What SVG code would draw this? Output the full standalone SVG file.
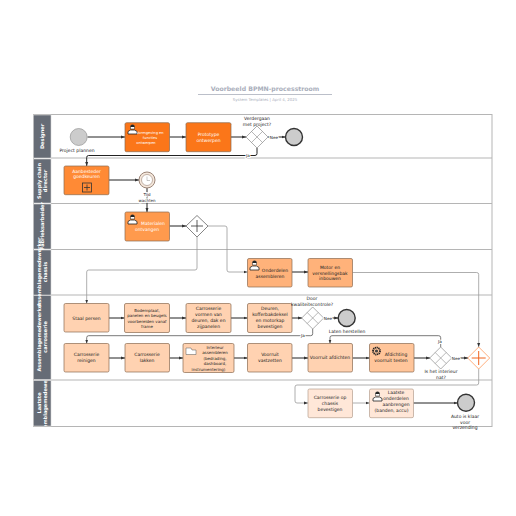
<svg xmlns="http://www.w3.org/2000/svg" width="516" height="516" viewBox="0 0 516 516">
<style>
text{font-family:"DejaVu Sans","Liberation Sans",sans-serif;font-size:4.5px;fill:#222;text-anchor:middle}
.w{fill:#fff}
.t{stroke:#8a6a50;stroke-width:.7}
.lane{fill:#fff;stroke:#b5b5b5;stroke-width:1}
.hd{fill:#666c76;stroke:#d8d8d8;stroke-width:.6}
.hl{fill:#fff;font-weight:bold;font-size:5px}
.c{fill:none;stroke:#222;stroke-width:1}
.g{fill:none;stroke:#999;stroke-width:.8}
.gw{fill:#fff;stroke:#999;stroke-width:.8}
.x{stroke:#888;stroke-width:.6;fill:none}
.end{fill:#ccc;stroke:#333;stroke-width:1.4}
.lbl{font-size:4.2px;paint-order:stroke;stroke:#fff;stroke-width:2px}
</style>
<defs>
<marker id="a" markerWidth="5" markerHeight="5" refX="4" refY="2" orient="auto" markerUnits="userSpaceOnUse"><path d="M0 .5L4 2L0 3.500Z" fill="#333"/></marker>
<clipPath id="lastHd"><rect x="33" y="380.500" width="18" height="45.500"/></clipPath>
<symbol id="person" viewBox="0 0 11 11" overflow="visible"><path d="M1 10V7.500L3.500 6H7.500L10 7.500V10Z" fill="#fff" stroke="#222" stroke-width=".8"/><path d="M3.500 2.800A2 2 0 0 1 7.500 2.800V5H3.500Z" fill="#fff" stroke="#222" stroke-width=".5"/><path d="M3.300 3A2.200 2.200 0 0 1 7.700 3Z" fill="#222"/></symbol>
</defs>

<rect width="516" height="516" fill="#fff"/>
<g id="title">
<text x="265" y="91" style="font-size:6.2px;font-weight:bold;fill:#a9aebb">Voorbeeld BPMN-processtroom</text>
<line x1="198" y1="94.500" x2="332" y2="94.500" stroke="#a9aebb" stroke-width=".8"/>
<text x="265" y="100.500" style="font-size:3.9px;fill:#a9aebb">System Templates  |  April 4, 2025</text>
</g>

<g id="lanes">
<rect class="lane" x="33.500" y="114.500" width="458.500" height="312"/>
<path d="M51 158H492M51 203.500H492M51 249.500H492M51 295H492M51 380H492" stroke="#b5b5b5" fill="none"/>
<rect class="hd" x="33.500" y="115" width="17.500" height="43"/>
<rect class="hd" x="33.500" y="159" width="17.500" height="44"/>
<rect class="hd" x="33.500" y="204" width="17.500" height="45"/>
<rect class="hd" x="33.500" y="250" width="17.500" height="45"/>
<rect class="hd" x="33.500" y="295.500" width="17.500" height="84"/>
<rect class="hd" x="33.500" y="380.500" width="17.500" height="45.500"/>
<text class="hl" transform="translate(44,136.500) rotate(-90)">Designer</text>
<text class="hl" transform="translate(41,181) rotate(-90)">Supply chain</text>
<text class="hl" transform="translate(47,181) rotate(-90)">director</text>
<text class="hl" transform="translate(44,226) rotate(-90)">Fabrieksarbeider</text>
<text class="hl" transform="translate(41,272) rotate(-90)">Assemblagemedewerker</text>
<text class="hl" transform="translate(47,272) rotate(-90)">chassis</text>
<text class="hl" transform="translate(41,337) rotate(-90)">Assemblagemedewerker</text>
<text class="hl" transform="translate(47,337) rotate(-90)">carrosserie</text>
<g clip-path="url(#lastHd)">
<text class="hl" transform="translate(41,403) rotate(-90)">Laatste</text>
<text class="hl" transform="translate(47,403) rotate(-90)">assemblagemedewerker</text>
</g>
</g>

<g id="connectors">
<path class="c" marker-end="url(#a)" d="M87.500 137H125"/>
<path class="c" marker-end="url(#a)" d="M169.500 137H186"/>
<path class="c" marker-end="url(#a)" d="M231 137H246"/>
<path class="c" marker-end="url(#a)" d="M268 137H285.500"/>
<path class="c" marker-end="url(#a)" d="M257 148V153.500Q257 155.500 255 155.500H88.500Q86.700 155.500 86.700 157.500V166"/>
<path class="c" marker-end="url(#a)" d="M109 180H139"/>
<path class="c" marker-end="url(#a)" d="M147 188V212"/>
<path class="c" marker-end="url(#a)" d="M169.500 226H186"/>
<path class="g" marker-end="url(#a)" d="M208 226H225Q227 226 227 228V270Q227 272 229 272H247.500"/>
<path class="g" marker-end="url(#a)" d="M197 237V268Q197 270 195 270H88.700Q86.700 270 86.700 272V303.500"/>
<path class="c" marker-end="url(#a)" d="M292 272H308"/>
<path class="g" d="M352.500 272.500H476.700Q478.700 272.500 478.700 274.500V347" marker-end="url(#a)"/>
<path class="c" marker-end="url(#a)" d="M109 318H124.500"/>
<path class="c" marker-end="url(#a)" d="M169.500 318H186"/>
<path class="c" marker-end="url(#a)" d="M231 318H247.500"/>
<path class="c" marker-end="url(#a)" d="M292 318H302"/>
<path class="c" marker-end="url(#a)" d="M323.700 318H338.200"/>
<path class="g" style="stroke:#555" marker-end="url(#a)" d="M312.700 329V333.700Q312.700 335.700 310.700 335.700H88.700Q86.700 335.700 86.700 337.700V343.500"/>
<path class="c" marker-end="url(#a)" d="M109 358H125"/>
<path class="c" marker-end="url(#a)" d="M169.500 358H183"/>
<path class="c" marker-end="url(#a)" d="M234 358H247.500"/>
<path class="c" marker-end="url(#a)" d="M292 358H308"/>
<path class="c" marker-end="url(#a)" d="M352.500 358H369.500"/>
<path class="c" marker-end="url(#a)" d="M413.500 358H430"/>
<path class="c" marker-end="url(#a)" d="M451.700 358H468"/>
<path class="g" style="stroke:#555" marker-end="url(#a)" d="M440.700 347V337.700Q440.700 335.700 438.700 335.700H332Q330 335.700 330 337.700V343.500"/>
<path class="g" marker-end="url(#a)" d="M478.700 369V383Q478.700 385 476.700 385H297Q295 385 295 387V401Q295 403 297 403H308"/>
<path class="g" marker-end="url(#a)" d="M352.500 403H369.500"/>
<path class="c" marker-end="url(#a)" d="M413.500 403H457.500"/>
</g>

<g id="n-start"><circle cx="78.700" cy="137" r="8.500" fill="#ccc" stroke="#888" stroke-width=".6"/><text x="77" y="152">Project plannen</text></g>
<g id="n-t1"><rect class="t" x="125" y="122.700" width="44.500" height="29" rx="1.500" fill="#fb7619"/><use href="#person" x="127" y="124" width="11" height="11"/><text class="w" style="font-size:3.6px"><tspan x="150" y="134">Vormgeving en</tspan><tspan x="150" y="139">functies</tspan><tspan x="146" y="143.500">ontwerpen</tspan></text></g>
<g id="n-t2"><rect class="t" x="186" y="122.700" width="45" height="29" rx="1.500" fill="#fb7619"/><text class="w"><tspan x="208.500" y="136">Prototype</tspan><tspan x="208.500" y="142">ontwerpen</tspan></text></g>
<g id="n-gw1"><path class="gw" d="M257 126L268 137L257 148L246 137Z"/><path class="x" d="M251.500 131.500L262.500 142.500M262.500 131.500L251.500 142.500"/><text><tspan x="257" y="120">Verdergaan</tspan><tspan x="257" y="126">met project?</tspan></text></g>
<g id="n-end1"><circle class="end" cx="294" cy="137" r="8.500"/></g>
<text class="lbl" x="274" y="138.500">Nee</text>
<text class="lbl" x="248" y="157">Ja</text>

<g id="n-aanb"><rect class="t" x="64" y="166" width="45" height="28.700" rx="1.500" fill="#ff8a35"/><text class="w"><tspan x="86.500" y="172.500">Aanbesteder</tspan><tspan x="86.500" y="178">goedkeuren</tspan></text><rect x="82.500" y="183" width="9" height="9" fill="none" stroke="#333" stroke-width=".8"/><path d="M87 184.500V190.500M84 187.500H90" stroke="#333" stroke-width=".8"/></g>
<g id="n-timer"><circle cx="147" cy="180" r="8" fill="#f5e8dc" stroke="#9b8578" stroke-width="1"/><circle cx="147" cy="180" r="5.500" fill="#fff" stroke="#9b8578" stroke-width=".6"/><path d="M147 176.500V180.500H150" fill="none" stroke="#777" stroke-width=".4"/><text style="font-size:4px;paint-order:stroke;stroke:#fff;stroke-width:1.500px"><tspan x="147" y="196">Tijd</tspan><tspan x="147" y="201.500">wachten</tspan></text></g>
<g id="n-mat"><rect class="t" x="125" y="212" width="44.500" height="29" rx="1.500" fill="#ff9a4d"/><use href="#person" x="127" y="214" width="11" height="11"/><text class="w"><tspan x="153" y="225">Materialen</tspan><tspan x="147" y="231">ontvangen</tspan></text></g>
<g id="n-gw2"><path d="M197 215.500L208 226L197 237L186 226Z" fill="#fff" stroke="#666" stroke-width=".8"/><path d="M197 220V232M191 226H203" stroke="#333" stroke-width=".8"/></g>
<g id="n-ond"><rect class="t" x="247.500" y="258.500" width="44.500" height="28.500" rx="1.500" fill="#ffb27a"/><use href="#person" x="249" y="260" width="11" height="11"/><text><tspan x="275" y="272">Onderdelen</tspan><tspan x="270" y="278">assembleren</tspan></text></g>
<g id="n-motor"><rect class="t" x="308" y="258.500" width="44.500" height="28.500" rx="1.500" fill="#ffb27a"/><text><tspan x="330" y="269">Motor en</tspan><tspan x="330" y="274.500">versnellingsbak</tspan><tspan x="330" y="280">inbouwen</tspan></text></g>

<g id="n-staal"><rect class="t" x="64" y="303.500" width="45" height="28.500" rx="1.500" fill="#ffd2b1"/><text x="86.500" y="320">Staal persen</text></g>
<g id="n-bod"><rect class="t" x="124.500" y="303.500" width="45" height="29" rx="1.500" fill="#ffd2b1"/><text style="font-size:4px"><tspan x="147" y="311.500">Bodemplaat,</tspan><tspan x="147" y="317">panelen en beugels</tspan><tspan x="147" y="322.500">voorbereiden vanaf</tspan><tspan x="147" y="328">frame</tspan></text></g>
<g id="n-car"><rect class="t" x="186" y="303.500" width="45" height="29" rx="1.500" fill="#ffd2b1"/><text><tspan x="208.500" y="310">Carrosserie</tspan><tspan x="208.500" y="316">vormen van</tspan><tspan x="208.500" y="321.500">deuren, dak en</tspan><tspan x="208.500" y="327.500">zijpanelen</tspan></text></g>
<g id="n-deur"><rect class="t" x="247.500" y="303.500" width="44.500" height="29" rx="1.500" fill="#ffd2b1"/><text><tspan x="270" y="310">Deuren,</tspan><tspan x="270" y="316">kofferbakdeksel</tspan><tspan x="270" y="321.500">en motorkap</tspan><tspan x="270" y="327.500">bevestigen</tspan></text></g>
<g id="n-gw3"><path class="gw" d="M312.700 307L323.700 318L312.700 329L301.700 318Z"/><path class="x" d="M307.200 312.500L318.200 323.500M318.200 312.500L307.200 323.500"/><text><tspan x="312" y="300">Door</tspan><tspan x="312" y="306">kwaliteitscontrole?</tspan></text></g>
<g id="n-end2"><circle class="end" cx="346.700" cy="318" r="8.500"/></g>
<text class="lbl" x="328" y="319.500">Nee</text>
<text class="lbl" x="303" y="337">Ja</text>
<text x="347" y="333">Laten herstellen</text>

<g id="n-rein"><rect class="t" x="64" y="343.500" width="45" height="28.500" rx="1.500" fill="#ffd2b1"/><text><tspan x="86.500" y="356">Carrosserie</tspan><tspan x="86.500" y="362">reinigen</tspan></text></g>
<g id="n-lak"><rect class="t" x="125" y="343.500" width="44.500" height="28.500" rx="1.500" fill="#ffd2b1"/><text><tspan x="147" y="356">Carrosserie</tspan><tspan x="147" y="362">lakken</tspan></text></g>
<g id="n-int"><rect class="t" x="183" y="343.500" width="51" height="29" rx="1.500" fill="#ffd2b1"/><path d="M186 348H191L192 350H196V354.500H186Z" fill="#fff" stroke="#555" stroke-width=".5"/><text style="font-size:4px"><tspan x="215" y="348.500">Interieur</tspan><tspan x="215" y="354">assembleren</tspan><tspan x="215" y="359.500">(bedrading,</tspan><tspan x="215" y="365">dashboard,</tspan><tspan x="208.500" y="370.500">instrumentering)</tspan></text></g>
<g id="n-vast"><rect class="t" x="247.500" y="343.500" width="44.500" height="28.500" rx="1.500" fill="#ffd2b1"/><text><tspan x="270" y="356">Voorruit</tspan><tspan x="270" y="362">vastzetten</tspan></text></g>
<g id="n-afd"><rect class="t" x="308" y="343.500" width="44.500" height="28.500" rx="1.500" fill="#ffd2b1"/><text x="330" y="359">Voorruit afdichten</text></g>
<g id="n-test"><rect class="t" x="369.500" y="343.500" width="44.500" height="28.500" rx="1.500" fill="#ffc59a"/><circle cx="376.500" cy="351" r="3.500" fill="none" stroke="#222" stroke-width="1.800" stroke-dasharray="1.200 .6"/><circle cx="376.500" cy="351" r="1.600" fill="#444"/><text><tspan x="396" y="356">Afdichting</tspan><tspan x="391" y="362">voorruit testen</tspan></text></g>
<g id="n-gw4"><path class="gw" d="M440.700 347L451.700 358L440.700 369L429.700 358Z"/><path class="x" d="M435.200 352.500L446.200 363.500M446.200 352.500L435.200 363.500"/><text><tspan x="441" y="372.500">Is het interieur</tspan><tspan x="441" y="378.500">nat?</tspan></text></g>
<text class="lbl" x="440" y="343">Ja</text>
<text class="lbl" x="456" y="359.500">Nee</text>
<g id="n-gw5"><path d="M478.700 347L489.700 358L478.700 369L467.700 358Z" fill="#fff" stroke="#ff9a5c" stroke-width=".8"/><path d="M478.700 351V365M471.700 358H485.700" stroke="#f0641e" stroke-width="1"/></g>

<g id="n-chas"><rect x="308" y="389" width="44.500" height="28.700" rx="1.500" fill="#ffe7d8" stroke="#a89080" stroke-width=".6"/><text><tspan x="330" y="399">Carrosserie op</tspan><tspan x="330" y="405">chassis</tspan><tspan x="330" y="411">bevestigen</tspan></text></g>
<g id="n-laat"><rect x="369.500" y="389" width="44" height="28.700" rx="1.500" fill="#ffe7d8" stroke="#a89080" stroke-width=".6"/><use href="#person" x="372" y="391" width="11" height="11"/><text><tspan x="396" y="393.500">Laatste</tspan><tspan x="396" y="399.500">onderdelen</tspan><tspan x="396" y="405.500">aanbrengen</tspan><tspan x="391.500" y="411.500">(banden, accu)</tspan></text></g>
<g id="n-end3"><circle class="end" cx="466" cy="402.700" r="8.500"/><text><tspan x="465" y="418">Auto is klaar</tspan><tspan x="465" y="423.500">voor</tspan><tspan x="465" y="429">verzending</tspan></text></g>
</svg>
